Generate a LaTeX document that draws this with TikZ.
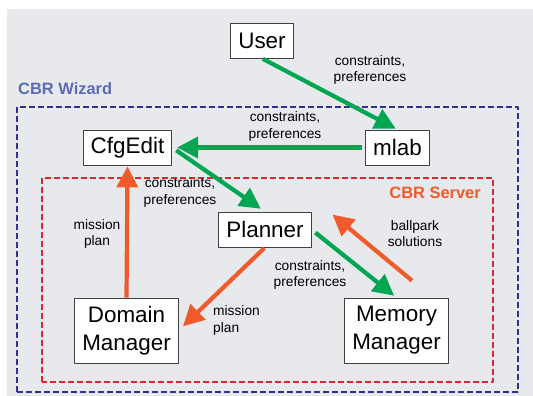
\documentclass[tikz,border=0pt]{standalone}
\usepackage{fontspec}
\setmainfont{Liberation Sans}
\usetikzlibrary{arrows.meta}
\definecolor{flowgreen}{HTML}{00A651}
\definecolor{floworange}{HTML}{F15A2B}
\definecolor{wizardblue}{HTML}{2E3192}
\definecolor{wizardtext}{HTML}{5B6BB5}
\definecolor{serverred}{HTML}{D7282F}
\definecolor{panelgray}{HTML}{E8E9ED}
\begin{document}
\begin{tikzpicture}[>={Triangle[length=21bp,width=21bp]},line join=bevel,
  comp/.style={draw=black!75,fill=white,line width=0.8bp,inner xsep=7.5bp,
    minimum height=35bp,align=center,font=\fontsize{22.5}{28}\selectfont},
  lbl/.style={align=center,inner sep=0pt,font=\fontsize{13.8}{16.5}\selectfont},
  grp/.style={font=\bfseries\fontsize{16.5}{20}\selectfont,inner sep=0pt},
  req/.style={->,draw=flowgreen,line width=4.2bp},
  rsp/.style={->,draw=floworange,line width=4.2bp},
  frame/.style={line width=2.4bp,dash pattern=on 6bp off 3bp}]
  \useasboundingbox (0bp,0bp) rectangle (533bp,396bp);
  \fill [panelgray] (7bp,0bp) rectangle (533bp,387bp);
  % Groups
  \draw [frame,wizardblue] (17bp,4bp) rectangle (518bp,289bp);
  \draw [frame,serverred] (42bp,14bp) rectangle (493bp,218bp);
  \node [grp,text=wizardtext,anchor=west] (wizard) at (18bp,307bp) {CBR Wizard};
  \node [grp,text=floworange,anchor=east] (server) at (481bp,203bp) {CBR Server};
  % Node: User
  \node [comp] (user) at (262bp,355.5bp) {User};
  % Node: CfgEdit
  \node [comp] (cfgedit) at (127.5bp,248.5bp) {CfgEdit};
  % Node: mlab
  \node [comp] (mlab) at (397.5bp,248.5bp) {mlab};
  % Node: Planner
  \node [comp] (planner) at (265bp,166.5bp) {Planner};
  % Node: Domain Manager
  \node [comp,minimum height=65bp] (domain) at (126.5bp,65.5bp) {Domain\\Manager};
  % Node: Memory Manager
  \node [comp,minimum height=65bp] (memory) at (396.5bp,65.5bp) {Memory\\Manager};
  % Edge: User -> mlab
  \draw [req,shorten <=1bp,shorten >=2bp] (user.south) -- (mlab.north);
  \node [lbl] (l1) at (370bp,326bp) {constraints,\\preferences};
  % Edge: mlab -> CfgEdit
  \draw [req,shorten <=3bp,shorten >=5bp] (mlab.west) -- (cfgedit.east);
  \node [lbl] (l2) at (285bp,269.5bp) {constraints,\\preferences};
  % Edge: CfgEdit -> Planner
  \draw [req,shorten <=5bp,shorten >=5bp] (cfgedit.east) -- (planner.north);
  \node [lbl] (l3) at (180bp,203.5bp) {constraints,\\preferences};
  % Edge: Planner -> Memory Manager
  \draw [req,shorten <=5bp,shorten >=3bp] (planner.east) -- (memory.north);
  \node [lbl] (l4) at (310bp,121bp) {constraints,\\preferences};
  % Edge: Memory Manager -> Planner
  \draw [rsp] ([xshift=15.5bp,yshift=17bp]memory.north) -- ([xshift=21bp,yshift=-3bp]planner.north east);
  \node [lbl] (l5) at (415bp,162.5bp) {ballpark\\solutions};
  % Edge: Planner -> Domain Manager
  \draw [rsp,shorten <=1bp,shorten >=6bp] (planner.south) -- (domain.east);
  \node [lbl,align=left,anchor=west] (l6) at (213bp,75.5bp) {mission\\plan};
  % Edge: Domain Manager -> CfgEdit
  \draw [rsp,shorten >=1bp] (domain.north) -- (cfgedit.south);
  \node [lbl] (l7) at (97bp,162bp) {mission\\plan};
\end{tikzpicture}
\end{document}
